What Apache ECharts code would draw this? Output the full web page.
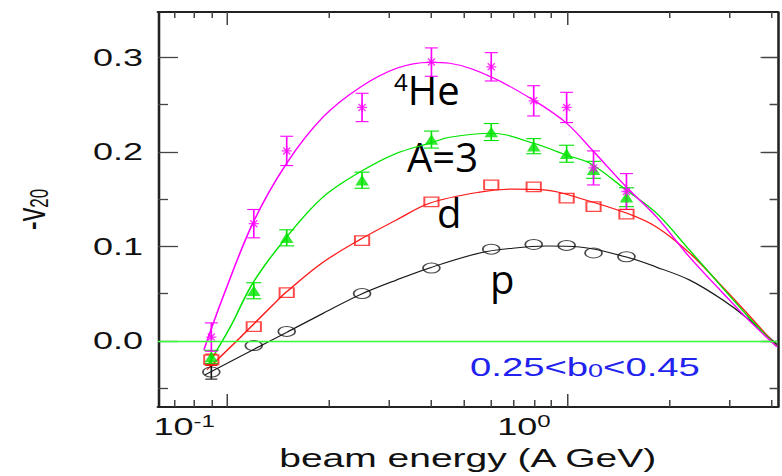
<!DOCTYPE html>
<html>
<head>
<meta charset="utf-8">
<script src="https://cdn.jsdelivr.net/npm/echarts@6/dist/echarts.min.js"></script>
<style>
html,body{margin:0;padding:0;background:#fff;overflow:hidden;}
#chart{width:521.333px;height:476px;transform:scaleX(1.5);transform-origin:0 0;}
</style>
</head>
<body>
<div id="chart"></div>
<script>
// ---------------- data ----------------
const energies = [0.09, 0.12, 0.15, 0.25, 0.4, 0.6, 0.8, 1.0, 1.2, 1.5];
const pV   = [-0.033, -0.005, 0.010, 0.050, 0.077, 0.097, 0.102, 0.101, 0.093, 0.089];
const pErr = [0.0075, 0, 0, 0, 0, 0, 0, 0, 0, 0];
const dV   = [-0.020, 0.015, 0.051, 0.106, 0.147, 0.165, 0.163, 0.151, 0.142, 0.134];
const dErr = [0.006, 0, 0, 0, 0, 0, 0, 0, 0, 0];
const a3V  = [-0.017, 0.053, 0.109, 0.170, 0.213, 0.221, 0.206, 0.198, 0.181, 0.152];
const a3Err= [0.007, 0.0085, 0.0085, 0.0085, 0.009, 0.009, 0.008, 0.009, 0.009, 0.010];
const heV  = [0.004, 0.124, 0.201, 0.247, 0.295, 0.290, 0.254, 0.247, 0.183, 0.158];
const heErr= [0.015, 0.015, 0.0155, 0.015, 0.015, 0.015, 0.016, 0.016, 0.018, 0.019];

// fitted curves
const heCurveE = [0.0856, 0.0967, 0.1193, 0.150, 0.1916, 0.246, 0.316, 0.395, 0.453, 0.602, 0.80, 1.0, 1.19, 1.50, 1.84, 2.30, 2.88, 3.45, 4.16];
const heCurveV = [-0.0095, 0.0433, 0.1247, 0.188, 0.2366, 0.268, 0.2884, 0.2947, 0.2937, 0.2789, 0.2546, 0.2303, 0.2018, 0.1627, 0.131, 0.0887, 0.0508, 0.0212, -0.0063];
const a3CurveE = [0.088, 0.102, 0.1193, 0.150, 0.1916, 0.246, 0.316, 0.395, 0.453, 0.602, 0.80, 1.0, 1.169, 1.50, 1.84, 2.30, 2.88, 3.45, 4.16];
const a3CurveV = [-0.0254, 0.0137, 0.0613, 0.110, 0.152, 0.1785, 0.1986, 0.2091, 0.2155, 0.2197, 0.209, 0.1965, 0.188, 0.1595, 0.135, 0.0961, 0.0560, 0.0243, -0.0063];
const dCurveE  = [0.0873, 0.1092, 0.1413, 0.150, 0.1916, 0.246, 0.316, 0.395, 0.555, 0.694, 0.873, 1.092, 1.50, 1.84, 2.30, 2.88, 3.45, 4.16];
const dCurveV  = [-0.0306, 0.0032, 0.0433, 0.052, 0.083, 0.107, 0.128, 0.1457, 0.1574, 0.1606, 0.1595, 0.151, 0.1352, 0.1204, 0.093, 0.0570, 0.0265, -0.0063];
const pCurveE  = [0.0862, 0.1193, 0.150, 0.1916, 0.246, 0.316, 0.395, 0.555, 0.694, 0.873, 1.092, 1.50, 1.84, 2.30, 2.88, 3.45, 4.16];
const pCurveV  = [-0.036, -0.0095, 0.009, 0.029, 0.0487, 0.0645, 0.0772, 0.093, 0.098, 0.1003, 0.0993, 0.0887, 0.078, 0.0644, 0.0433, 0.0222, -0.004];

// axes
const xRangeE = [0.0627, 4.175];
const yRange = [-0.07, 0.348];
const xMajorE = [0.1, 1];
const xMinorE = [0.07, 0.08, 0.09, 0.2, 0.3, 0.4, 0.5, 0.6, 0.7, 0.8, 0.9, 2, 3, 4];
const yMajor = [0, 0.1, 0.2, 0.3];
const yMinor = [-0.05, 0.05, 0.15, 0.25];

// ---------------- build ----------------
const lg = v => Math.round(Math.log10(v) * 1e9) / 1e9;
const pts = (E, V) => E.map((e, i) => [lg(e), V[i]]);
const errPts = (E, V, R) => E.map((e, i) => [lg(e), V[i], R[i]]);

const C_MAG = '#ff00ff', C_GRN = '#00e400', C_RED = '#ff1a1a', C_BLK = '#1a1a1a', C_ZERO = '#33ff33';
const AX = '#222', TK = '#444';

function errRender(color, capHalf) {
  return function (params, api) {
    const x = api.value(0), y = api.value(1), e = api.value(2);
    if (!e) return null;
    const a = api.coord([x, y + e]), b = api.coord([x, y - e]);
    const st = { stroke: color, lineWidth: 1.1 };
    return { type: 'group', children: [
      { type: 'line', shape: { x1: a[0], y1: a[1], x2: b[0], y2: b[1] }, style: st },
      { type: 'line', shape: { x1: a[0] - capHalf, y1: a[1], x2: a[0] + capHalf, y2: a[1] }, style: st },
      { type: 'line', shape: { x1: b[0] - capHalf, y1: b[1], x2: b[0] + capHalf, y2: b[1] }, style: st }
    ]};
  };
}

const xMin = Math.log10(xRangeE[0]), xMax = Math.log10(xRangeE[1]);
function xAxisDef(pos, vals, len, withLabel, line) {
  return {
    type: 'value', position: pos, min: xMin, max: xMax,
    axisLine: { show: line, onZero: false, lineStyle: { color: AX, width: 2 } },
    axisTick: { show: true, inside: true, length: len, customValues: vals.map(lg), lineStyle: { color: TK, width: 1 } },
    axisLabel: withLabel ? {
      show: true, customValues: vals.map(lg), margin: 7,
      formatter: v => '{b|10}{s|' + Math.round(v) + '}{pad| }',
      rich: {
        b: { fontFamily: 'Liberation Sans', fontSize: 24, lineHeight: 24, verticalAlign: 'bottom', color: '#111' },
        s: { fontFamily: 'Liberation Sans', fontSize: 16, lineHeight: 16, verticalAlign: 'top', padding: [0, 0, 10, 0], color: '#111' },
        pad: { width: 57, fontSize: 10 }
      }
    } : { show: false },
    splitLine: { show: false }
  };
}
function yAxisDef(pos, vals, len, withLabel, line) {
  return {
    type: 'value', position: pos, min: yRange[0], max: yRange[1],
    axisLine: { show: line, onZero: false, lineStyle: { color: AX, width: 1.7 } },
    axisTick: { show: true, inside: true, length: len, customValues: vals, lineStyle: { color: TK, width: 1.3 } },
    axisLabel: withLabel ? {
      show: true, customValues: vals, margin: 10,
      formatter: v => v.toFixed(1),
      fontFamily: 'Liberation Sans', fontSize: 24, color: '#111'
    } : { show: false },
    splitLine: { show: false }
  };
}

const xAxes = [
  xAxisDef('bottom', xMajorE, 13, true, true),
  xAxisDef('bottom', xMinorE, 7, false, false),
  xAxisDef('top', xMajorE, 13, false, true),
  xAxisDef('top', xMinorE, 6, false, false)
];
Object.assign(xAxes[0], {
  name: 'beam energy (A GeV)', nameLocation: 'middle', nameGap: 38, nameMoveOverlap: false,
  nameTextStyle: { fontFamily: 'Liberation Sans', fontSize: 26, lineHeight: 26, color: '#111' }
});
const yAxes = [
  yAxisDef('left', yMajor, 13.3, true, true),
  yAxisDef('left', yMinor, 6.7, false, false),
  yAxisDef('right', yMajor, 11.3, false, true),
  yAxisDef('right', yMinor, 5.3, false, false)
];
Object.assign(yAxes[0], {
  name: '{m|-v}{s|20}', nameLocation: 'middle', nameRotate: 90, nameGap: 71, nameMoveOverlap: false,
  nameTextStyle: {
    fontFamily: 'Liberation Sans', fontSize: 27, color: '#111',
    rich: {
      m: { fontFamily: 'Liberation Sans', fontSize: 27, lineHeight: 27, verticalAlign: 'top', color: '#111' },
      s: { fontFamily: 'Liberation Sans', fontSize: 17, lineHeight: 17, verticalAlign: 'bottom', padding: [20, 0, 0, 0], color: '#111' }
    }
  }
});

const curve = (E, V, color, extra) => Object.assign({
  type: 'line', data: pts(E, V), smooth: 0.35, showSymbol: false, symbol: 'none', clip: true,
  lineStyle: { color: color, width: 1.1 }, z: 2, silent: true
}, extra || {});

const S = 1 / 1.5;
const ann = (xs, y, text, rich) => ({
  type: 'text', x: xs / 1.5, y: y, scaleX: S, silent: true,
  style: { text: text, fill: '#000', fontFamily: 'Open Sans', fontSize: 40, align: 'left', verticalAlign: 'middle', rich: rich }
});

const chart = echarts.init(document.getElementById('chart'), null, { renderer: 'svg' });
chart.setOption({
  animation: false,
  backgroundColor: '#fff',
  grid: { left: 105.333, right: 2.667, top: 12, bottom: 69, containLabel: false, outerBoundsMode: 'none' },
  xAxis: xAxes,
  yAxis: yAxes,
  series: [
    curve(pCurveE, pCurveV, C_BLK, {
      markLine: { silent: true, symbol: ['none', 'none'], label: { show: false },
        lineStyle: { color: C_ZERO, width: 1.3, type: 'solid' }, data: [{ yAxis: 0 }] }
    }),
    curve(dCurveE, dCurveV, C_RED),
    curve(a3CurveE, a3CurveV, C_GRN),
    curve(heCurveE, heCurveV, C_MAG),
    { type: 'custom', renderItem: errRender(C_BLK, 4), data: errPts(energies, pV, pErr), encode: { x: 0, y: 1 }, z: 3, silent: true },
    { type: 'custom', renderItem: errRender(C_RED, 4), data: errPts(energies, dV, dErr), encode: { x: 0, y: 1 }, z: 3, silent: true },
    { type: 'custom', renderItem: errRender(C_GRN, 5), data: errPts(energies, a3V, a3Err), encode: { x: 0, y: 1 }, z: 3, silent: true },
    { type: 'custom', renderItem: errRender(C_MAG, 4.3), data: errPts(energies, heV, heErr), encode: { x: 0, y: 1 }, z: 3, silent: true },
    { type: 'scatter', data: pts(energies, pV), symbol: 'path://M10,0A10,10,0,1,1,-10,0A10,10,0,1,1,10,0Z', symbolSize: [11.3, 10],
      itemStyle: { color: 'rgba(0,0,0,0)', borderColor: C_BLK, borderWidth: 1.1 }, z: 4, silent: true },
    { type: 'scatter', data: pts(energies, dV), symbol: 'rect', symbolSize: [9.5, 9.5],
      itemStyle: { color: 'rgba(0,0,0,0)', borderColor: C_RED, borderWidth: 1.3 }, z: 4, silent: true },
    { type: 'scatter', data: pts(energies, a3V), symbol: 'triangle', symbolSize: [9, 10.5],
      itemStyle: { color: C_GRN }, z: 4, silent: true },
    { type: 'scatter', data: pts(energies, heV), symbol: 'path://M0,5L10,5M5,0L5,10M1.5,1.5L8.5,8.5M1.5,8.5L8.5,1.5', symbolSize: [6.7, 10],
      itemStyle: { color: 'rgba(0,0,0,0)', borderColor: C_MAG, borderWidth: 1.1 }, z: 4, silent: true }
  ],
  graphic: [
    ann(394, 90, '{sup|4}{m|He}', {
      sup: { fontFamily: 'Open Sans', fontSize: 24, lineHeight: 24, verticalAlign: 'top', padding: [0, 0, 19, 0], fill: '#000' },
      m: { fontFamily: 'Open Sans', fontSize: 40, lineHeight: 40, verticalAlign: 'bottom', fill: '#000' }
    }),
    ann(407, 157, 'A=3'),
    ann(437, 212.5, 'd'),
    ann(490, 279, 'p'),
    {
      type: 'text', x: 470 / 1.5, y: 367, silent: true,
      style: {
        text: '{a|0.25<b}{s|0}{a|<0.45}', align: 'left', verticalAlign: 'middle',
        rich: {
          a: { fontFamily: 'Liberation Sans', fontSize: 25.5, lineHeight: 25, verticalAlign: 'top', fill: '#2222ee' },
          s: { fontFamily: 'Liberation Sans', fontSize: 18, lineHeight: 18, verticalAlign: 'bottom', padding: [14, 0, 0, 0], fill: '#2222ee' }
        }
      }
    }
  ]
});
</script>
</body>
</html>
